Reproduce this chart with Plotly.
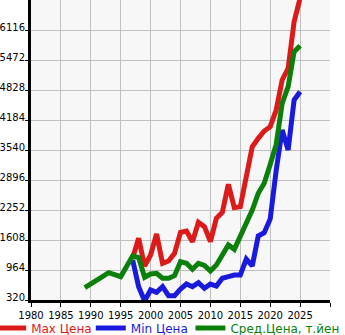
import plotly.graph_objects as go

# Price history by model year (thousand yen)
max_years = list(range(1997, 2026))
max_price = [1220, 1644, 1050, 1286, 1737, 1107, 1157, 1322, 1773, 1801,
             1572, 1987, 1894, 1572, 2073, 2202, 2803, 2301, 2323, 3039,
             3611, 3791, 3948, 4040, 4399, 5043, 5294, 6294, 6800]

min_years = list(range(1997, 2026))
min_price = [1179, 606, 300, 535, 485, 606, 413, 413, 556, 663,
             606, 692, 570, 663, 620, 786, 821, 857, 857, 1200,
             1050, 1694, 1765, 2060, 3100, 3969, 3540, 4613, 4792]

avg_years = [1989, 1993, 1995, 1997, 1998, 1999, 2000, 2001, 2002, 2003,
             2004, 2005, 2006, 2007, 2008, 2009, 2010, 2011, 2012, 2013,
             2014, 2015, 2016, 2017, 2018, 2019, 2020, 2021, 2022, 2023,
             2024, 2025]
avg_price = [584, 906, 820, 1265, 1230, 807, 878, 893, 786, 786,
             842, 1142, 1107, 979, 1107, 1064, 943, 1071, 1286, 1501,
             1408, 1679, 2001, 2252, 2610, 2825, 3230, 3660, 4543, 4900,
             5651, 5780]

y_ticks = [320, 964, 1608, 2252, 2896, 3540, 4184, 4828, 5472, 6116]
x_ticks = list(range(1980, 2031, 5))
x_labels = [str(v) for v in x_ticks[:-1]] + [""]

RED = "#dd1a1a"
BLUE = "#1a1add"
GREEN = "#0a800a"

# one legend per series so each entry keeps its own colour and slot
series = [
    ("Max Цена", max_years, max_price, RED, "legend", -0.1333),
    ("Min Цена", min_years, min_price, BLUE, "legend2", 0.2),
    ("Сред.Цена, т.йен", avg_years, avg_price, GREEN, "legend3", 0.5333),
]

FONT = "DejaVu Sans"
axis_font = dict(family=FONT, size=10, color="#000")

fig = go.Figure()
legends = {}
for name, xs, ys, col, lg, lx in series:
    fig.add_trace(go.Scatter(
        x=xs, y=ys, mode="lines", name=name, legend=lg,
        line=dict(color=col, width=5),
    ))
    legends[lg] = dict(
        orientation="h", x=lx, xanchor="left", y=-0.045, yanchor="top",
        font=dict(family=FONT, size=12, color=col),
        bgcolor="rgba(0,0,0,0)", itemwidth=30,
    )

fig.update_layout(
    width=345, height=335,
    margin=dict(l=31, r=15, t=0, b=35, autoexpand=False),
    paper_bgcolor="white",
    plot_bgcolor="#f7f7f7",
    showlegend=True,
    xaxis=dict(
        range=[1980, 2030], tickvals=x_ticks, ticktext=x_labels,
        tickangle=0,
        showgrid=True, gridcolor="#c0c0c0", gridwidth=1,
        showline=True, linecolor="#000", linewidth=3,
        ticks="outside", ticklen=4, tickcolor="#000", tickwidth=1,
        tickfont=axis_font, zeroline=False, fixedrange=True,
        automargin=False,
    ),
    yaxis=dict(
        range=[320, 6760], tickvals=y_ticks,
        showgrid=True, gridcolor="#c0c0c0", gridwidth=1,
        showline=True, linecolor="#000", linewidth=3,
        ticks="outside", ticklen=3, tickcolor="#000", tickwidth=1,
        tickfont=axis_font, zeroline=False, fixedrange=True,
        automargin=False, ticklabelstandoff=-2, ticklabelshift=-3,
    ),
    **legends,
)

fig.write_html("out.html", config={"displayModeBar": False})
